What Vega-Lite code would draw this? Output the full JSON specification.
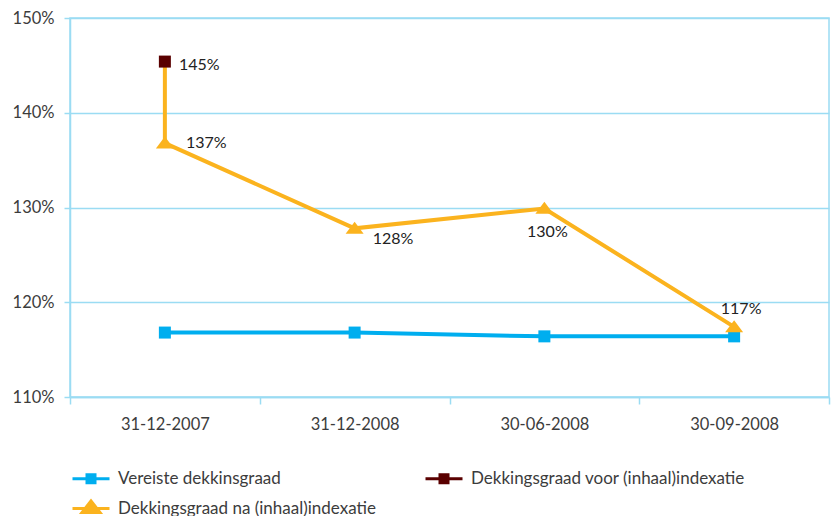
{
  "$schema": "https://vega.github.io/schema/vega-lite/v6.json",
  "width": 759,
  "height": 379,
  "autosize": {"type": "none"},
  "padding": {"left": 70, "top": 18, "right": 4, "bottom": 119},
  "background": "white",
  "config": {
    "font": "Lato",
    "view": {"stroke": "#9bdcf3", "strokeWidth": 1.5},
    "axis": {
      "domainColor": "#9bdcf3", "tickColor": "#9bdcf3", "gridColor": "#9bdcf3",
      "domainWidth": 1.5, "tickWidth": 1.5, "gridWidth": 1.5,
      "labelFont": "Lato", "labelFontSize": 16.5, "labelColor": "#3c3c3c", "title": null
    },
    "text": {"font": "Lato", "fontSize": 16, "color": "#222222"}
  },
  "data": {
    "values": [
      {"date": "31-12-2007", "Vereiste dekkinsgraad": 1.168, "Dekkingsgraad voor (inhaal)indexatie": 1.454, "Dekkingsgraad na (inhaal)indexatie": 1.368},
      {"date": "31-12-2008", "Vereiste dekkinsgraad": 1.168, "Dekkingsgraad voor (inhaal)indexatie": null, "Dekkingsgraad na (inhaal)indexatie": 1.278},
      {"date": "30-06-2008", "Vereiste dekkinsgraad": 1.164, "Dekkingsgraad voor (inhaal)indexatie": null, "Dekkingsgraad na (inhaal)indexatie": 1.299},
      {"date": "30-09-2008", "Vereiste dekkinsgraad": 1.164, "Dekkingsgraad voor (inhaal)indexatie": null, "Dekkingsgraad na (inhaal)indexatie": 1.174}
    ]
  },
  "encoding": {
    "x": {
      "field": "date", "type": "nominal", "sort": null,
      "scale": {"type": "band", "paddingInner": 0, "paddingOuter": 0},
      "axis": {"tickBand": "extent", "labelAngle": 0, "tickSize": 7, "labelPadding": 12, "grid": false}
    }
  },
  "layer": [
    {
      "mark": {"type": "line", "color": "#00aeef", "strokeWidth": 4},
      "encoding": {
        "y": {
          "field": "Vereiste dekkinsgraad", "type": "quantitative",
          "scale": {"domain": [1.1, 1.5]},
          "axis": {"format": ".0%", "values": [1.1, 1.2, 1.3, 1.4, 1.5], "tickSize": 6, "labelPadding": 10, "grid": true}
        }
      }
    },
    {
      "transform": [{"filter": "datum['Dekkingsgraad voor (inhaal)indexatie'] != null"}],
      "mark": {"type": "rule", "color": "#fbb31e", "strokeWidth": 4},
      "encoding": {
        "y": {"field": "Dekkingsgraad voor (inhaal)indexatie", "type": "quantitative"},
        "y2": {"field": "Dekkingsgraad na (inhaal)indexatie"}
      }
    },
    {
      "mark": {"type": "line", "color": "#fbb31e", "strokeWidth": 4},
      "encoding": {
        "y": {"field": "Dekkingsgraad na (inhaal)indexatie", "type": "quantitative"}
      }
    },
    {
      "mark": {"type": "point", "filled": true, "opacity": 1, "size": 144, "shape": "square", "color": "#00aeef"},
      "encoding": {
        "y": {"field": "Vereiste dekkinsgraad", "type": "quantitative"}
      }
    },
    {
      "transform": [{"filter": "datum['Dekkingsgraad voor (inhaal)indexatie'] != null"}],
      "mark": {"type": "point", "filled": true, "opacity": 1, "size": 144, "shape": "square", "color": "#5a0000"},
      "encoding": {
        "y": {"field": "Dekkingsgraad voor (inhaal)indexatie", "type": "quantitative"}
      }
    },
    {
      "mark": {"type": "point", "filled": true, "opacity": 1, "size": 144, "shape": "M0,-1.1L1.5,0.9L-1.5,0.9Z", "color": "#fbb31e"},
      "encoding": {
        "y": {"field": "Dekkingsgraad na (inhaal)indexatie", "type": "quantitative"}
      }
    },
    {
      "transform": [
        {"fold": ["Vereiste dekkinsgraad", "Dekkingsgraad voor (inhaal)indexatie", "Dekkingsgraad na (inhaal)indexatie"], "as": ["series", "value"]},
        {"filter": "false"}
      ],
      "mark": {"type": "point", "opacity": 1, "strokeWidth": 3},
      "encoding": {
        "y": {"field": "value", "type": "quantitative"},
        "fill": {
          "field": "series", "type": "nominal",
          "scale": {
            "domain": ["Vereiste dekkinsgraad", "Dekkingsgraad voor (inhaal)indexatie", "Dekkingsgraad na (inhaal)indexatie"],
            "range": ["#00aeef", "#5a0000", "#fbb31e"]
          },
          "legend": {
            "orient": "none", "legendX": 9.5, "legendY": 449,
            "columns": 2, "direction": "horizontal", "title": null, "padding": 0,
            "symbolSize": 400, "symbolStrokeWidth": 3, "symbolOpacity": 1,
            "labelFont": "Lato", "labelFontSize": 17, "labelColor": "#3c3c3c",
            "labelOffset": 15.5, "labelLimit": 400, "columnPadding": 43, "rowPadding": 6
          }
        },
        "stroke": {
          "field": "series", "type": "nominal",
          "scale": {
            "domain": ["Vereiste dekkinsgraad", "Dekkingsgraad voor (inhaal)indexatie", "Dekkingsgraad na (inhaal)indexatie"],
            "range": ["#00aeef", "#5a0000", "#fbb31e"]
          }
        },
        "shape": {
          "field": "series", "type": "nominal",
          "scale": {
            "domain": ["Vereiste dekkinsgraad", "Dekkingsgraad voor (inhaal)indexatie", "Dekkingsgraad na (inhaal)indexatie"],
            "range": ["M-1.85,0H1.85M-0.4,-0.4H0.4V0.4H-0.4Z", "M-1.85,0H1.85M-0.4,-0.4H0.4V0.4H-0.4Z", "M-1.85,0H1.85M0,-0.75L0.9,0.4L-0.9,0.4Z"]
          }
        }
      }
    },
    {
      "transform": [{"filter": "datum.date === '31-12-2007'"}],
      "mark": {"type": "text", "align": "left", "baseline": "middle", "dx": 14, "dy": 3},
      "encoding": {
        "y": {"field": "Dekkingsgraad voor (inhaal)indexatie", "type": "quantitative"},
        "text": {"field": "Dekkingsgraad voor (inhaal)indexatie", "type": "quantitative", "format": ".0%"}
      }
    },
    {
      "transform": [{"filter": "datum.date === '31-12-2007'"}],
      "mark": {"type": "text", "align": "left", "baseline": "middle", "dx": 21, "dy": 0},
      "encoding": {
        "y": {"field": "Dekkingsgraad na (inhaal)indexatie", "type": "quantitative"},
        "text": {"field": "Dekkingsgraad na (inhaal)indexatie", "type": "quantitative", "format": ".0%"}
      }
    },
    {
      "transform": [{"filter": "datum.date === '31-12-2008'"}],
      "mark": {"type": "text", "align": "left", "baseline": "middle", "dx": 18, "dy": 11},
      "encoding": {
        "y": {"field": "Dekkingsgraad na (inhaal)indexatie", "type": "quantitative"},
        "text": {"field": "Dekkingsgraad na (inhaal)indexatie", "type": "quantitative", "format": ".0%"}
      }
    },
    {
      "transform": [{"filter": "datum.date === '30-06-2008'"}],
      "mark": {"type": "text", "align": "center", "baseline": "middle", "dx": 3, "dy": 24},
      "encoding": {
        "y": {"field": "Dekkingsgraad na (inhaal)indexatie", "type": "quantitative"},
        "text": {"field": "Dekkingsgraad na (inhaal)indexatie", "type": "quantitative", "format": ".0%"}
      }
    },
    {
      "transform": [{"filter": "datum.date === '30-09-2008'"}],
      "mark": {"type": "text", "align": "center", "baseline": "middle", "dx": 7, "dy": -18},
      "encoding": {
        "y": {"field": "Dekkingsgraad na (inhaal)indexatie", "type": "quantitative"},
        "text": {"field": "Dekkingsgraad na (inhaal)indexatie", "type": "quantitative", "format": ".0%"}
      }
    }
  ]
}
